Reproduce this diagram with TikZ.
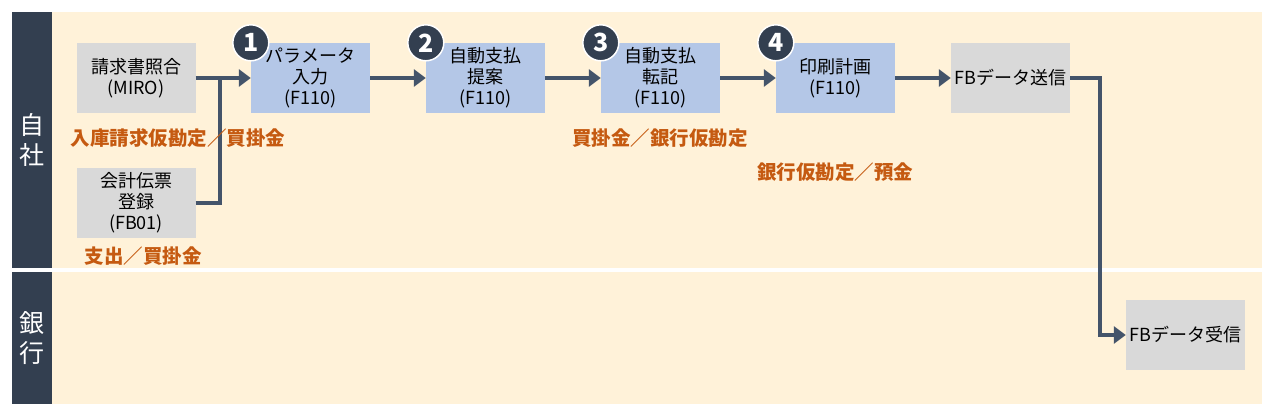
\documentclass[tikz,border=0pt]{standalone}
\usepackage{fontspec}
\setmainfont{Noto Sans CJK JP}
\usetikzlibrary{positioning,arrows.meta}
\definecolor{bandcolor}{HTML}{333F50}
\definecolor{lanecolor}{HTML}{FFF2D9}
\definecolor{graycolor}{HTML}{D9D9D9}
\definecolor{bluecolor}{HTML}{B4C7E7}
\definecolor{linecolor}{HTML}{44546A}
\definecolor{notecolor}{HTML}{C55A11}
\tikzset{
  graybox/.style={fill=graycolor, minimum width=119pt, minimum height=70pt, align=center, font=\fontsize{18}{21}\selectfont, inner sep=0pt},
  bluebox/.style={graybox, fill=bluecolor},
  stepnum/.style={circle, fill=bandcolor, draw=white, line width=1.5pt, minimum size=36pt, inner sep=0pt, text=white, font=\fontsize{25}{25}\selectfont\bfseries},
  note/.style={text=notecolor, font=\fontsize{19.5}{22}\selectfont\bfseries},
  flow/.style={draw=linecolor, line width=3.5pt, -{Triangle[length=12pt,width=17pt]}},
}
\begin{document}
\begin{tikzpicture}[x=1pt,y=-1pt]
  \useasboundingbox (0,0) rectangle (1271,412);
  % lanes
  \fill[lanecolor] (52,12) rectangle (1262,268);
  \fill[lanecolor] (52,272) rectangle (1262,404);
  \fill[bandcolor] (12,12) rectangle (52,268);
  \fill[bandcolor] (12,272) rectangle (52,404);
  \node[text=white, align=center, font=\fontsize{25}{30}\selectfont] (own) at (32,140) {自\\社};
  \node[text=white, align=center, font=\fontsize{25}{30}\selectfont] (bank) at (32,338) {銀\\行};

  % boxes
  \node[graybox] (miro) at (136,78) {請求書照合\\(MIRO)};
  \node[graybox] (fb01) at (136,203) {会計伝票\\登録\\(FB01)};
  \node[bluebox] (param) at (310.5,78) {パラメータ\\入力\\(F110)};
  \node[bluebox] (prop) at (485.5,78) {自動支払\\提案\\(F110)};
  \node[bluebox] (post) at (660.5,78) {自動支払\\転記\\(F110)};
  \node[bluebox] (print) at (835.5,78) {印刷計画\\(F110)};
  \node[graybox] (send) at (1010.5,78) {FBデータ送信};
  \node[graybox] (recv) at (1185.5,335) {FBデータ受信};

  % step numbers
  \node[stepnum] (s1) at (param.north west) {1};
  \node[stepnum] (s2) at (prop.north west) {2};
  \node[stepnum] (s3) at (post.north west) {3};
  \node[stepnum] (s4) at (print.north west) {4};

  % connectors
  \coordinate (join) at (220,78);
  \draw[flow] (miro) -- (param);
  \draw[draw=linecolor, line width=3.5pt] (fb01.east) -| (join);
  \draw[flow] (prop.west -| param.east) -- (prop);
  \draw[flow] (post.west -| prop.east) -- (post);
  \draw[flow] (print.west -| post.east) -- (print);
  \draw[flow] (send.west -| print.east) -- (send);
  \draw[flow] (send.east) -- ++(30,0) |- (recv.west);

  % postings
  \node[note] (n1) at (178,138) {入庫請求仮勘定／買掛金};
  \node[note] (n2) at (143,256) {支出／買掛金};
  \node[note] (n3) at (660,138) {買掛金／銀行仮勘定};
  \node[note] (n4) at (835,172) {銀行仮勘定／預金};
\end{tikzpicture}
\end{document}
